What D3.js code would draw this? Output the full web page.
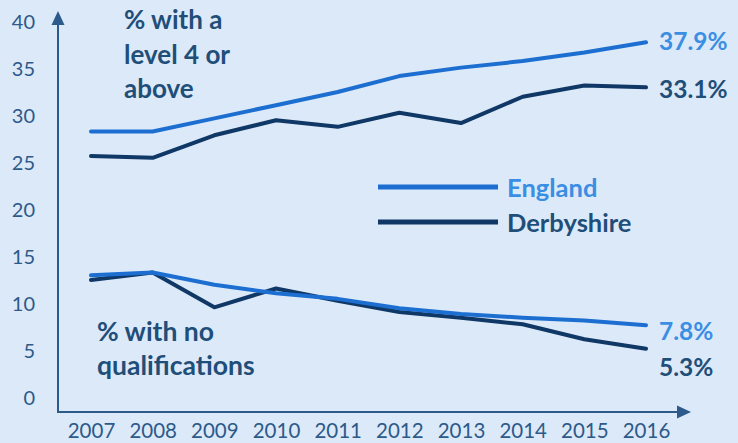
<!DOCTYPE html>
<html>
<head>
<meta charset="utf-8">
<script src="https://cdn.jsdelivr.net/npm/d3@7"></script>
<style>
  body { margin: 0; background: #dce9f8; }
  svg { display: block; }
  text { font-family: Lato, "Open Sans", sans-serif; }
</style>
</head>
<body>
<div id="chart"></div>
<script>
const years = [2007, 2008, 2009, 2010, 2011, 2012, 2013, 2014, 2015, 2016];
const englandLevel4 = [28.4, 28.4, 29.8, 31.2, 32.6, 34.3, 35.2, 35.9, 36.8, 37.9];
const derbyLevel4 = [25.8, 25.6, 28.0, 29.6, 28.9, 30.4, 29.3, 32.1, 33.3, 33.1];
const englandNoQual = [13.1, 13.4, 12.1, 11.2, 10.6, 9.6, 9.0, 8.6, 8.3, 7.8];
const derbyNoQual = [12.6, 13.4, 9.7, 11.7, 10.4, 9.2, 8.6, 7.9, 6.3, 5.3];
const yTicks = [0, 5, 10, 15, 20, 25, 30, 35, 40];

const width = 738, height = 443;
const axisColor = "#2c5a8a";
const englandColor = "#1c6fd1";
const englandText = "#3a8ee3";
const derbyColor = "#0f3866";
const navyText = "#1f4e79";

const svg = d3.select("#chart")
  .append("svg")
  .attr("width", width)
  .attr("height", height);

const x = d3.scalePoint()
  .domain(years)
  .range([91, 646]);

const y = d3.scaleLinear()
  .domain([0, 40])
  .range([398.5, 22.5]);

// y tick labels (no tick marks)
svg.append("g")
  .attr("transform", "translate(58,0)")
  .call(d3.axisLeft(y).tickValues(yTicks).tickSize(0).tickPadding(23))
  .call(g => g.select(".domain").remove())
  .selectAll("text")
  .style("font-size", "20px")
  .style("font-family", "Lato, sans-serif")
  .attr("fill", axisColor);

// x tick labels
svg.append("g")
  .attr("transform", "translate(0,412)")
  .call(d3.axisBottom(x).tickSize(0).tickPadding(11))
  .call(g => g.select(".domain").remove())
  .selectAll("text")
  .style("font-size", "20.5px")
  .style("font-family", "Lato, sans-serif")
  .attr("fill", axisColor);

// axis lines with arrows
svg.append("line")
  .attr("x1", 58).attr("y1", 412)
  .attr("x2", 58).attr("y2", 22)
  .attr("stroke", axisColor).attr("stroke-width", 2);
svg.append("path")
  .attr("d", "M58,11 L51.5,25 L64.5,25 Z")
  .attr("fill", axisColor);
svg.append("line")
  .attr("x1", 57).attr("y1", 412)
  .attr("x2", 680).attr("y2", 412)
  .attr("stroke", axisColor).attr("stroke-width", 2);
svg.append("path")
  .attr("d", "M691,412 L677,405.5 L677,418.5 Z")
  .attr("fill", axisColor);

const line = d3.line()
  .x((d, i) => x(years[i]))
  .y(d => y(d));

const series = [
  { values: derbyLevel4, color: derbyColor },
  { values: englandLevel4, color: englandColor },
  { values: derbyNoQual, color: derbyColor },
  { values: englandNoQual, color: englandColor }
];

svg.selectAll(".series")
  .data(series)
  .enter().append("path")
  .attr("class", "series")
  .attr("d", d => line(d.values))
  .attr("fill", "none")
  .attr("stroke", d => d.color)
  .attr("stroke-width", 4)
  .attr("stroke-linejoin", "round")
  .attr("stroke-linecap", "round");

// end labels
const last = years.length - 1;
const endLabels = [
  { v: englandLevel4[last], color: englandText, dy: 8 },
  { v: derbyLevel4[last], color: navyText, dy: 11 },
  { v: englandNoQual[last], color: englandText, dy: 15 },
  { v: derbyNoQual[last], color: navyText, dy: 27 }
];
svg.selectAll(".end-label")
  .data(endLabels)
  .enter().append("text")
  .attr("class", "end-label")
  .attr("x", x(years[last]) + 13)
  .attr("y", d => d.y === undefined ? y(d.v) + d.dy : d.y)
  .attr("fill", d => d.color)
  .style("font-size", "24.5px")
  .style("font-weight", "bold")
  .text(d => d.v.toFixed(1) + "%");

// annotations
const topNote = svg.append("text")
  .attr("fill", navyText)
  .style("font-size", "26px")
  .style("font-weight", "bold");
["% with a", "level 4 or", "above"].forEach((t, i) => {
  topNote.append("tspan").attr("x", 124).attr("y", 29 + i * 34.5).text(t);
});

const lowNote = svg.append("text")
  .attr("fill", navyText)
  .style("font-size", "26.5px")
  .style("font-weight", "bold");
["% with no", "qualifications"].forEach((t, i) => {
  lowNote.append("tspan").attr("x", 97).attr("y", 341 + i * 34).text(t);
});

// legend
const legend = [
  { name: "England", color: englandColor, textColor: englandText, y: 187 },
  { name: "Derbyshire", color: derbyColor, textColor: navyText, y: 222 }
];
const lg = svg.selectAll(".legend")
  .data(legend)
  .enter().append("g")
  .attr("class", "legend");
lg.append("line")
  .attr("x1", 378).attr("x2", 498)
  .attr("y1", d => d.y).attr("y2", d => d.y)
  .attr("stroke", d => d.color)
  .attr("stroke-width", 5);
lg.append("text")
  .attr("x", 507)
  .attr("y", d => d.y + 10)
  .attr("fill", d => d.textColor)
  .style("font-size", "25.5px")
  .style("font-weight", "bold")
  .text(d => d.name);
</script>
</body>
</html>
